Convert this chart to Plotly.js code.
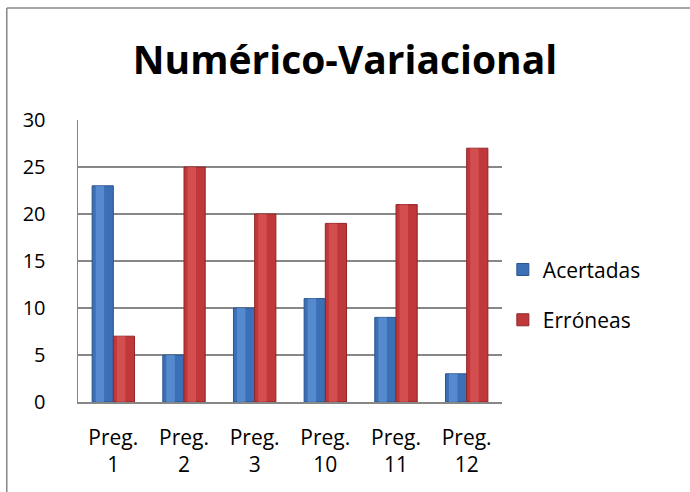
<!DOCTYPE html>
<html>
<head>
<meta charset="utf-8">
<script src="https://cdn.plot.ly/plotly-3.0.1.min.js"></script>
<style>
  html, body { margin: 0; padding: 0; background: #fff; }
  #chart { width: 690px; height: 492px; }
</style>
</head>
<body>
<div id="chart"></div>
<script>
// Categories and results per question
const categories = ["Preg. 1", "Preg. 2", "Preg. 3", "Preg. 10", "Preg. 11", "Preg. 12"];
const tickLabels = ["Preg.<br>1", "Preg.<br>2", "Preg.<br>3", "Preg.<br>10", "Preg.<br>11", "Preg.<br>12"];
const acertadas = [23, 5, 10, 11, 9, 3];
const erroneas = [7, 25, 20, 19, 21, 27];
const yTicks = [0, 5, 10, 15, 20, 25, 30];

const FONT = "Open Sans, Noto Sans, sans-serif";

function barTrace(name, values, color, edge, offset) {
  return {
    type: "bar",
    name: name,
    x: categories,
    y: values,
    width: 0.3,
    offset: offset,
    marker: { color: color, line: { color: edge, width: 1 } },
    legendgroup: name,
    hoverinfo: "y"
  };
}

// Lighter inner strip gives each bar a rounded, shaded look
function shineTrace(name, values, color, offset) {
  return {
    type: "bar",
    x: categories,
    y: values,
    width: 0.12,
    offset: offset,
    marker: { color: color, line: { width: 0 } },
    showlegend: false,
    legendgroup: name,
    hoverinfo: "skip"
  };
}

const data = [
  barTrace("Acertadas", acertadas, "#3b6fb6", "#2a548e", -0.3),
  barTrace("Erróneas", erroneas, "#c0383a", "#8f2527", 0.0),
  shineTrace("Acertadas", acertadas, "rgba(110,160,225,0.55)", -0.25),
  shineTrace("Erróneas", erroneas, "rgba(230,100,100,0.5)", 0.05)
];

const layout = {
  width: 690,
  height: 492,
  margin: { l: 78, r: 188, t: 120, b: 90 },
  paper_bgcolor: "#ffffff",
  plot_bgcolor: "#ffffff",
  barmode: "overlay",
  title: {
    text: "<b>Numérico-Variacional</b>",
    font: { family: FONT, size: 39, color: "#000" },
    x: 0.5,
    xanchor: "center",
    y: 0.878,
    yanchor: "middle"
  },
  xaxis: {
    type: "category",
    tickvals: categories,
    ticktext: tickLabels,
    tickfont: { family: FONT, size: 21, color: "#000" },
    showline: true,
    linecolor: "#878787",
    linewidth: 1.5,
    ticks: "",
    showgrid: false,
    ticklabelstandoff: 16,
    fixedrange: true
  },
  yaxis: {
    range: [0, 30],
    tickvals: yTicks,
    tickfont: { family: FONT, size: 20, color: "#000" },
    showline: true,
    linecolor: "#878787",
    linewidth: 1.5,
    showgrid: true,
    gridcolor: "#878787",
    gridwidth: 1.3,
    zeroline: false,
    ticks: "",
    ticklabelstandoff: 27,
    fixedrange: true
  },
  legend: {
    x: 1.002,
    xanchor: "left",
    y: 0.38,
    yanchor: "middle",
    font: { family: FONT, size: 21, color: "#000" },
    tracegroupgap: 20,
    itemwidth: 30,
    bgcolor: "rgba(0,0,0,0)"
  },
  shapes: [
    // chart frame (left and top edges)
    { type: "line", xref: "paper", yref: "paper", x0: -0.168, x1: -0.168, y0: -0.33, y1: 1.397,
      line: { color: "#878787", width: 1.5 } },
    { type: "line", xref: "paper", yref: "paper", x0: -0.168, x1: 1.45, y0: 1.397, y1: 1.397,
      line: { color: "#878787", width: 1.5 } }
  ]
};

Plotly.newPlot("chart", data, layout, { displayModeBar: false, staticPlot: true });
</script>
</body>
</html>
